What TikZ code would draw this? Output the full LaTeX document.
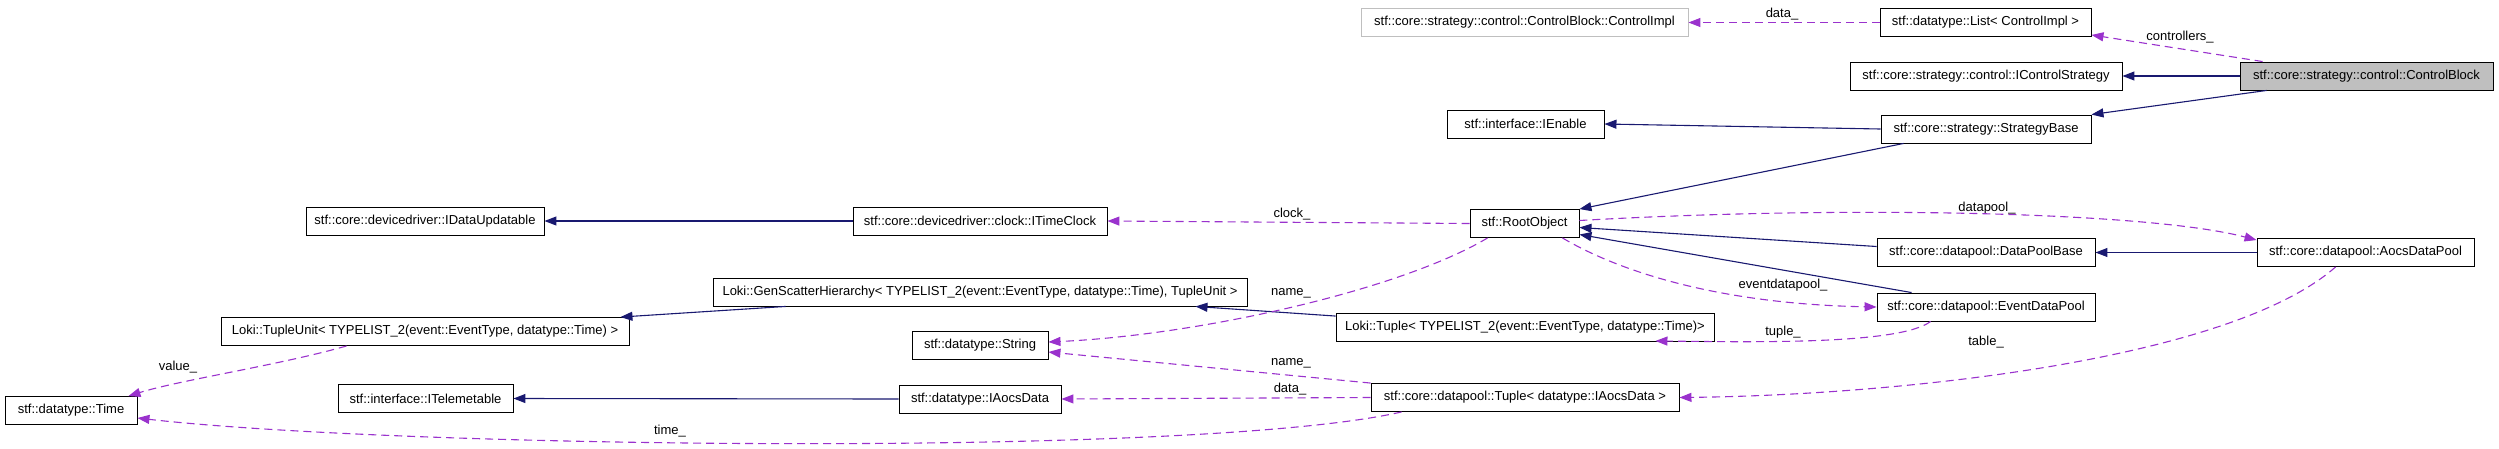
\documentclass[tikz,border=0pt]{standalone}
\usepackage{fontspec}
\setmainfont{Liberation Sans}
\usetikzlibrary{arrows.meta}
\definecolor{navyedge}{HTML}{191970}
\definecolor{purpedge}{HTML}{9A32CD}
\definecolor{cbfill}{HTML}{BFBFBF}
\begin{document}
\begin{tikzpicture}[x=1pt,y=-1pt,
  box/.style={draw=black, line width=0.9pt, fill=white, minimum height=28pt, inner sep=0pt, font=\fontsize{13}{15}\selectfont},
  lbl/.style={inner sep=0pt, font=\fontsize{13}{15}\selectfont},
  inh/.style={draw=navyedge, line width=1.1pt, -{Triangle[length=12pt,width=9pt]}},
  use/.style={draw=purpedge, line width=1.1pt, dash pattern=on 8pt off 5pt, -{Triangle[length=12pt,width=9pt]}}]
\useasboundingbox (0,0) rectangle (2499,448);
% nodes
\node[box, draw=cbfill, minimum width=327pt] (cimpl) at (1524.5,22.5) {stf::core::strategy::control::ControlBlock::ControlImpl};
\node[box, minimum width=211pt] (list) at (1985.5,22.5) {stf::datatype::List< ControlImpl >};
\node[box, minimum width=272pt] (icstrat) at (1986,76) {stf::core::strategy::control::IControlStrategy};
\node[box, fill=cbfill, minimum width=253pt] (cblock) at (2366.5,76) {stf::core::strategy::control::ControlBlock};
\node[box, minimum width=157pt] (ienable) at (1525.5,124) {stf::interface::IEnable};
\node[box, minimum width=210pt] (sbase) at (1986,129) {stf::core::strategy::StrategyBase};
\node[box, minimum width=109pt] (root) at (1524.5,223.5) {stf::RootObject};
\node[box, minimum width=218pt] (dpbase) at (1986,252.5) {stf::core::datapool::DataPoolBase};
\node[box, minimum width=217pt] (aocsdp) at (2365.5,252.5) {stf::core::datapool::AocsDataPool};
\node[box, minimum width=218pt] (evdp) at (1986,307) {stf::core::datapool::EventDataPool};
\node[box, minimum width=378pt] (lokituple) at (1525,327.5) {Loki::Tuple< TYPELIST\_2(event::EventType, datatype::Time)>};
\node[box, minimum width=308pt] (tupleaocs) at (1525,397.5) {stf::core::datapool::Tuple< datatype::IAocsData >};
\node[box, minimum width=254pt] (itimeclock) at (980,221) {stf::core::devicedriver::clock::ITimeClock};
\node[box, minimum width=534pt] (genscatter) at (980,292) {Loki::GenScatterHierarchy< TYPELIST\_2(event::EventType, datatype::Time), TupleUnit >};
\node[box, minimum width=136pt] (string) at (980,345) {stf::datatype::String};
\node[box, minimum width=162pt] (iaocsdata) at (980,399) {stf::datatype::IAocsData};
\node[box, minimum width=238pt] (idataupd) at (425,221) {stf::core::devicedriver::IDataUpdatable};
\node[box, minimum width=408pt] (tupleunit) at (425,331.5) {Loki::TupleUnit< TYPELIST\_2(event::EventType, datatype::Time) >};
\node[box, minimum width=175pt] (itelem) at (425.5,398.5) {stf::interface::ITelemetable};
\node[box, minimum width=132pt] (time) at (71,410.5) {stf::datatype::Time};
% labels
\node[lbl] (l1) at (1782,14) {data\_};
\node[lbl] (l2) at (2180,37) {controllers\_};
\node[lbl] (l3) at (1987,208) {datapool\_};
\node[lbl] (l4) at (1783,285) {eventdatapool\_};
\node[lbl] (l5) at (1783,332) {tuple\_};
\node[lbl] (l6) at (1986,342) {table\_};
\node[lbl] (l7) at (1292,214) {clock\_};
\node[lbl] (l8) at (1291,293) {name\_};
\node[lbl] (l9) at (1291,363) {name\_};
\node[lbl] (l10) at (1290,389) {data\_};
\node[lbl] (l11) at (670,431) {time\_};
\node[lbl] (l12) at (178,367) {value\_};
% connectors
\draw[use] (list.west) -- (cimpl.east);
\draw[use] ([xshift=23pt]cblock.north west) -- ([yshift=2pt]list.south east);
\draw[inh] (cblock.west) -- (icstrat.east);
\draw[inh] ([xshift=27pt]cblock.south west) -- (sbase.north east);
\draw[inh] (sbase.west) -- (ienable.east);
\draw[inh] ([xshift=23pt]sbase.south west) -- (root.north east);
\draw[use] ([yshift=3pt]root.east) .. controls (1850,205) and (2150,212) .. ([yshift=-2pt]aocsdp.north west);
\draw[inh] ([yshift=6pt]dpbase.west) -- ([yshift=-4pt]root.east);
\draw[inh] ([xshift=35pt]evdp.north west) -- ([yshift=-11pt]root.east);
\draw[inh] (aocsdp.west) -- (dpbase.east);
\draw[use] ([xshift=-17pt]root.south east) .. controls (1620,272) and (1720,304) .. (evdp.west);
\draw[use] ([xshift=54pt]evdp.south west) .. controls (1900,345) and (1750,342) .. ([xshift=-59pt,yshift=1pt]lokituple.south east);
\draw[use] ([xshift=79pt]aocsdp.south west) .. controls (2230,360) and (1900,395) .. (tupleaocs.east);
\draw[inh] ([yshift=-3pt]lokituple.north west) -- ([xshift=-52pt]genscatter.south east);
\draw[use] (root.west) -- (itimeclock.east);
\draw[inh] (itimeclock.west) -- (idataupd.east);
\draw[use] ([xshift=18pt]root.south west) .. controls (1400,290) and (1200,335) .. ([yshift=3pt]string.east);
\draw[use] (tupleaocs.north west) -- ([yshift=-7pt]string.east);
\draw[use] (tupleaocs.west) -- (iaocsdata.east);
\draw[inh] (iaocsdata.west) -- (itelem.east);
\draw[use] ([xshift=31pt]tupleaocs.south west) .. controls (1200,458) and (400,448) .. ([yshift=-7.5pt]time.east);
\draw[inh] ([xshift=73pt]genscatter.south west) -- ([xshift=-9pt]tupleunit.north east);
\draw[use] ([xshift=126pt]tupleunit.south west) .. controls (280,365) and (180,380) .. ([xshift=-9pt]time.north east);
\end{tikzpicture}
\end{document}
